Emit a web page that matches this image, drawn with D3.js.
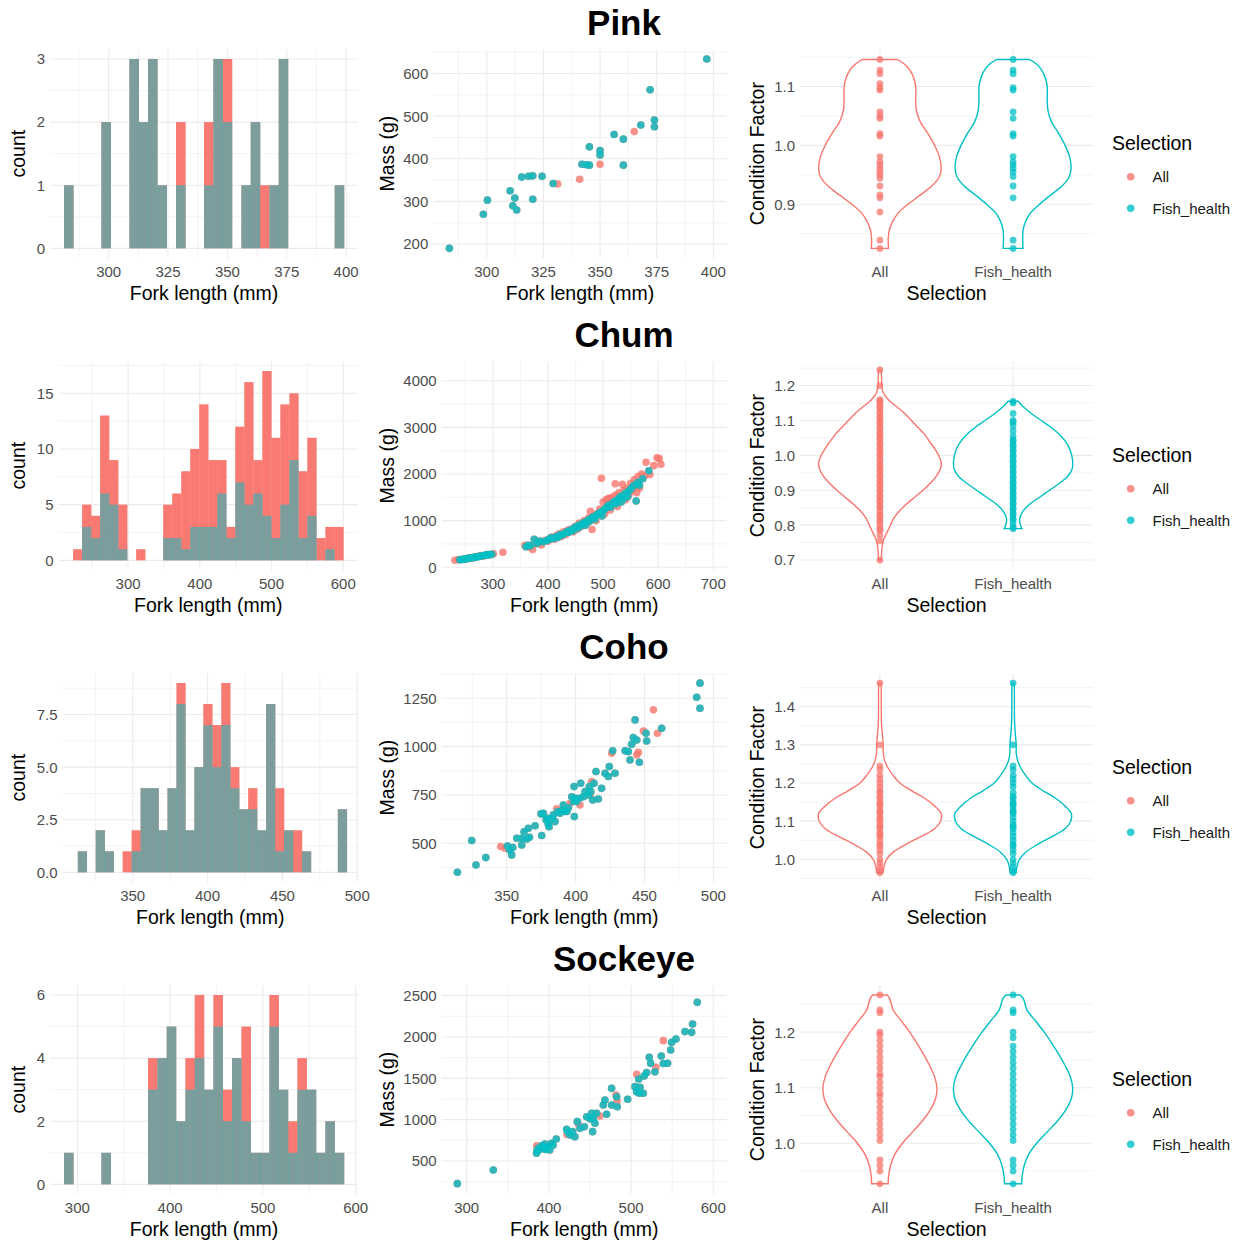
<!DOCTYPE html>
<html><head><meta charset="utf-8">
<script src="https://cdn.jsdelivr.net/npm/d3@7"></script>
<style>body{margin:0;background:#fff}</style>
</head><body>
<script>
// ================= DATA =================
const speciesNames = ["Pink", "Chum", "Coho", "Sockeye"];
const selections = ["All", "Fish_health"];

// Histograms (first bin edge, bin width, counts per bin)
const pinkHistStart = 281.2, pinkHistWidth = 3.93;
const pinkHistAll  = [1,0,0,0,2,0,0,3,2,3,1,0,2,0,0,2,3,3,0,1,2,1,1,3,0,0,0,0,0,1];
const pinkHistFish = [1,0,0,0,2,0,0,3,2,3,1,0,1,0,0,1,3,2,0,1,2,0,1,3,0,0,0,0,0,1];
const chumHistStart = 223.3, chumHistWidth = 12.56;
const chumHistAll  = [1,5,4,13,9,5,0,1,0,0,5,6,8,10,14,9,9,3,12,16,9,17,11,14,15,8,11,2,3,3];
const chumHistFish = [0,3,2,6,5,1,0,0,0,0,2,2,1,3,3,3,6,2,7,5,6,4,2,5,9,2,4,0,1,0];
const cohoHistStart = 313.3, cohoHistWidth = 5.99;
const cohoHistAll  = [1,0,2,1,0,1,2,4,4,2,4,9,2,5,8,7,9,5,3,4,2,8,4,2,2,1,0,0,0,3];
const cohoHistFish = [1,0,2,1,0,0,1,4,4,2,4,8,2,5,7,5,7,4,3,3,2,8,1,2,0,1,0,0,0,3];
const sockHistStart = 285.6, sockHistWidth = 10.06;
const sockHistAll  = [1,0,0,0,1,0,0,0,0,4,4,5,2,4,6,3,6,3,4,5,1,1,6,3,2,4,3,1,2,1];
const sockHistFish = [1,0,0,0,1,0,0,0,0,3,4,5,2,3,4,3,5,2,4,2,1,1,5,3,1,3,3,1,2,1];

// Scatter: fork length (mm) and mass (g); "Other" = in All but not in Fish_health
const pinkFishLen  = [283.5,298.5,300.3,310.3,311.5,312.4,313.2,315.4,318.4,320.3,320.3,324.4,329.3,342,344.1,345.3,345.3,350,350,356.2,360.3,360.3,368,372.1,374,374,397.1];
const pinkFishMass = [190,270,303,325,290,308,280,357,359,360,305,359,342,387,386,385,428,419,409,457,446,385,479,562,491,475,634];
const pinkOtherLen  = [331.3,341,350,365.1];
const pinkOtherMass = [341,352,387,464];

const chumFishLen  = [240,243,246,249,252,255,258,262,266,270,273,276,280,284,287,290,294,298,
  360,364,368,375,380,385,392,398,402,405,410,415,418,422,426,430,434,438,440,444,448,452,455,458,462,465,468,472,475,478,482,485,488,492,495,498,501,504,508,511,514,518,521,524,527,530,533,536,539,542,545,548,552,556,560,563,566,572,583];
const chumFishMass = [160,168,172,178,182,190,196,205,212,222,228,236,245,252,260,265,272,280,
  440,470,460,600,510,560,545,575,600,630,615,660,640,700,690,725,760,750,800,780,850,830,900,870,930,960,900,1010,980,1050,1080,1030,1120,1150,1180,1100,1220,1260,1300,1340,1290,1380,1420,1360,1450,1500,1400,1550,1480,1600,1520,1650,1700,1760,1420,1820,1760,1900,2070];
const chumOtherLen  = [231,238,250,257,264,268,275,282,289,296,301,318,
  358,366,372,376,383,388,395,400,407,412,416,420,424,428,432,436,442,446,450,454,457,461,466,470,474,477,480,484,487,490,494,497,500,503,506,510,513,516,520,522,523,526,529,532,535,538,541,544,547,550,554,557,561,564,566,570,575,578,585,592,598,602,605];
const chumOtherMass = [150,165,175,200,200,225,240,238,275,270,290,320,
  470,430,380,500,520,480,580,560,650,600,680,720,660,760,700,800,820,760,880,820,950,880,1000,940,1060,1200,810,1120,1000,1150,1250,1910,1400,1150,1450,1480,1230,1500,1380,1790,1550,1300,1600,1450,1780,1650,1450,1700,1560,1800,1650,1880,1600,1950,1700,2000,1950,2250,1990,2180,2350,2330,2210];

const cohoFishLen  = [314.2,324.6,327.7,334.8,350.5,352,353.6,354.4,357.3,360.9,360.9,362.6,364.5,365.7,366.5,370.6,375.4,374.9,376.6,378.6,379.5,380.2,380.7,382.7,383.9,385.1,387,388.7,390.6,391.1,391.9,393.6,394.8,397.2,398.4,399.1,398.9,399.6,400.8,402.7,403.7,405.6,406.9,409.3,410,411,412.4,413.4,414.8,416.5,418.9,421.4,423.8,424.5,426.9,428.6,435.9,438.3,439.5,440.7,441.9,443.2,444.4,446.3,451.1,451.6,462.5,487.9,490.3,490.3];
const cohoFishMass = [350,514,388,426,486,466,440,478,526,491,526,560,522,578,531,591,540,652,655,621,629,598,586,629,647,612,664,655,672,698,664,664,684,741,716,638,793,733,716,733,810,741,767,750,793,767,724,810,871,729,784,862,845,897,978,862,978,974,931,1012,1047,1138,1034,919,1069,1029,1095,1255,1328,1198];
const cohoOtherLen  = [345.6,348.8,386.3,396,403.2,410.5,411.7,426.2,444.4,445.6,449.2,456.5,459.4];
const cohoOtherMass = [483,474,678,707,698,753,819,966,957,971,1081,1190,1069];

const sockFishLen  = [288.6,332.4,385,385.5,387,389,391,393,395,396,397,399,401,403,405,409,421.6,423,425.7,428.9,431.7,434.6,437.8,443.1,446,450,452,453.2,454,456,458,466.2,468.2,470.2,476.3,476.3,482.4,483.2,495.8,504.7,506.7,509.2,509.9,510.8,514.8,516,518.9,522.1,523.8,529,536.7,539.2,544.4,548.1,549.3,554.6,565.5,573.6,574.8,580.5];
const sockFishMass = [226,391,593,620,653,640,685,660,706,640,653,670,633,714,690,766,883,850,815,855,794,976,895,915,1036,1010,1077,855,1016,956,1077,1177,1238,1065,1177,1379,1278,1157,1246,1399,1339,1492,1319,1391,1319,1528,1569,1754,1681,1580,1770,1680,1682,1843,1935,1976,2065,2056,2157,2419];
const sockOtherLen  = [385.1,422,436,462,481.6,483,506.7,530.2,539.2];
const sockOtherMass = [685,820,940,1044,1298,1220,1548,1633,1956];

// Violins: condition-factor levels and relative density width (0-100)
const pinkVioCF    = [1.146,1.14,1.13,1.115,1.10,1.08,1.06,1.04,1.02,1.00,0.98,0.96,0.945,0.93,0.915,0.90,0.885,0.87,0.855,0.84,0.825];
const pinkVioAll   = [28.6,37.8,47.6,55.1,58.4,58.4,59.5,65.9,78.4,89.2,97.3,100,96.2,83.8,64.9,45.9,29.7,20.5,15.1,13.5,14.1];
const pinkVioFish  = [27,36.2,45.4,52.4,55.7,55.7,56.8,62.7,74.6,84.9,92.4,94.6,90.8,78.9,60.5,43.2,28.1,20,16.2,15.7,16.2];
const chumVioAllCF = [1.245,1.22,1.2,1.18,1.16,1.14,1.12,1.10,1.08,1.06,1.04,1.02,1.0,0.98,0.96,0.94,0.92,0.90,0.88,0.86,0.84,0.82,0.80,0.78,0.76,0.74,0.72,0.70];
const chumVioAll   = [2.2,2.7,3.2,5.4,13.5,27,40.5,51.4,62.2,73,81.1,89.2,95.7,100,98.4,91.9,82.2,70.3,56.8,43.2,31.4,22.7,17.3,11.9,6.5,3.8,2.7,2.2];
const chumVioFishCF= [1.155,1.14,1.12,1.10,1.08,1.06,1.04,1.02,1.0,0.98,0.96,0.94,0.92,0.90,0.88,0.86,0.84,0.82,0.80,0.79];
const chumVioFish  = [8.1,16.2,29.7,45.9,62.2,75.7,85.4,91.9,95.7,97.3,96.2,89.2,75.7,59.5,43.2,27,16.2,10.8,11.9,14.6];
const cohoVioCF    = [1.462,1.44,1.40,1.36,1.33,1.30,1.28,1.26,1.24,1.22,1.20,1.18,1.16,1.14,1.12,1.10,1.08,1.06,1.04,1.02,1.00,0.98,0.965];
const cohoVioAll   = [1.6,2.2,2.2,2.5,3.8,5.4,5.4,7.6,13,21.6,32.4,51.4,73,89.2,100,98.9,89.2,67.6,43.2,22.7,10.8,6.5,5.4];
const cohoVioFish  = [1.6,2.1,2.1,2.4,3.6,5.1,5.1,7.2,12.4,20.5,30.8,48.8,69.4,84.7,95,94,84.7,64.2,41,21.6,10.3,6.2,5.1];
const sockVioCF    = [1.267,1.26,1.24,1.22,1.20,1.18,1.16,1.14,1.12,1.10,1.08,1.06,1.04,1.02,1.00,0.98,0.96,0.94,0.927];
const sockVioAll   = [11.9,16.2,21.6,35.1,48.6,60.5,71.4,81.1,89.2,93,90.8,82.2,69.2,53,36.8,24.3,17.3,14.1,13.5];
const sockVioFish  = [11.5,16.9,22.6,36.7,50.8,63.3,74.7,84.8,93.3,97.3,95,86,72.4,55.4,38.5,25.4,18.1,14.7,14.1];

// Violin dots: condition factor per fish
const pinkDotsAll  = [1.146,1.128,1.122,1.105,1.098,1.094,1.057,1.050,1.046,1.020,1.016,0.981,0.972,0.967,0.961,0.955,0.950,0.944,0.931,0.916,0.911,0.887,0.839,0.825];
const pinkDotsFish = [1.146,1.128,1.122,1.098,1.094,1.057,1.046,1.020,1.016,0.981,0.972,0.967,0.961,0.955,0.947,0.931,0.911,0.839,0.825];
const chumDotsAll  = [0.70,0.755,0.772,0.785,0.79,0.80,0.81,0.815,0.825,0.83,0.84,0.85,0.855,0.865,0.87,0.88,0.885,0.895,0.90,0.91,0.915,0.925,0.93,0.94,0.945,0.955,0.96,0.97,0.975,0.985,0.99,1.00,1.005,1.015,1.02,1.03,1.035,1.045,1.05,1.06,1.065,1.075,1.08,1.09,1.095,1.105,1.11,1.12,1.125,1.135,1.14,1.15,1.155,1.16,1.2,1.245];
const chumDotsFish = [0.79,0.795,0.805,0.815,0.82,0.83,0.835,0.845,0.85,0.86,0.865,0.875,0.88,0.89,0.895,0.905,0.91,0.92,0.925,0.935,0.94,0.95,0.955,0.965,0.97,0.98,0.985,0.995,1.0,1.01,1.015,1.025,1.03,1.04,1.045,1.055,1.07,1.085,1.095,1.10,1.12,1.15,1.155];
const cohoDotsAll  = [1.462,1.30,1.245,1.235,1.22,1.21,1.20,1.19,1.18,1.175,1.165,1.16,1.15,1.145,1.14,1.13,1.125,1.12,1.11,1.105,1.10,1.09,1.085,1.08,1.07,1.065,1.06,1.05,1.04,1.035,1.025,1.015,1.0,0.99,0.98,0.97,0.965];
const cohoDotsFish = [1.462,1.30,1.245,1.235,1.22,1.21,1.20,1.19,1.175,1.165,1.16,1.15,1.145,1.14,1.13,1.125,1.12,1.11,1.10,1.09,1.085,1.08,1.07,1.06,1.05,1.04,1.035,1.025,1.015,1.0,0.99,0.98,0.97,0.965];
const sockDotsAll  = [1.267,1.24,1.235,1.20,1.195,1.185,1.175,1.165,1.155,1.145,1.135,1.125,1.12,1.11,1.10,1.09,1.085,1.075,1.065,1.055,1.045,1.035,1.025,1.015,1.005,0.97,0.96,0.95,0.927];
const sockDotsFish = [1.267,1.24,1.235,1.20,1.19,1.175,1.165,1.155,1.145,1.135,1.125,1.115,1.105,1.095,1.085,1.075,1.065,1.055,1.045,1.035,1.025,1.015,1.005,0.97,0.96,0.95,0.927];

// ================= CONFIG (built from the arrays) =================
const zip = (a, b) => a.map((v, i) => [v, b[i]]);
const panels = [
  { name: speciesNames[0],
    hist: {start: pinkHistStart, width: pinkHistWidth, all: pinkHistAll, fish: pinkHistFish, left: 50, xDomain: [275.3, 405.0], xTicks: [300,325,350,375,400], yTicks: [0,1,2,3], yFmt: d3.format("d")},
    scat: {fish: zip(pinkFishLen, pinkFishMass), other: zip(pinkOtherLen, pinkOtherMass), left: 433.3, xDomain: [276.4, 405.9], yDomain: [167.8, 656.2], xTicks: [300,325,350,375,400], yTicks: [200,300,400,500,600]},
    vio: {all: zip(pinkVioCF, pinkVioAll), fish: zip(pinkVioCF, pinkVioFish), dotsAll: pinkDotsAll, dotsFish: pinkDotsFish, yDomain: [0.809, 1.163], yTicks: [0.9,1.0,1.1]} },
  { name: speciesNames[1],
    hist: {start: chumHistStart, width: chumHistWidth, all: chumHistAll, fish: chumHistFish, left: 58.5, xDomain: [203, 620.5], xTicks: [300,400,500,600], yTicks: [0,5,10,15], yFmt: d3.format("d")},
    scat: {fish: zip(chumFishLen, chumFishMass), other: zip(chumOtherLen, chumOtherMass), left: 441.7, xDomain: [207, 724.4], yDomain: [-54, 4413], xTicks: [300,400,500,600,700], yTicks: [0,1000,2000,3000,4000]},
    vio: {all: zip(chumVioAllCF, chumVioAll), fish: zip(chumVioFishCF, chumVioFish), dotsAll: chumDotsAll, dotsFish: chumDotsFish, yDomain: [0.672, 1.269], yTicks: [0.7,0.8,0.9,1.0,1.1,1.2]} },
  { name: speciesNames[2],
    hist: {start: cohoHistStart, width: cohoHistWidth, all: cohoHistAll, fish: cohoHistFish, left: 62.5, xDomain: [303.1, 500.5], xTicks: [350,400,450,500], yTicks: [0,2.5,5,7.5], yFmt: d3.format(".1f")},
    scat: {fish: zip(cohoFishLen, cohoFishMass), other: zip(cohoOtherLen, cohoOtherMass), left: 441.7, xDomain: [302.8, 509.7], yDomain: [300.8, 1378], xTicks: [350,400,450,500], yTicks: [500,750,1000,1250]},
    vio: {all: zip(cohoVioCF, cohoVioAll), fish: zip(cohoVioCF, cohoVioFish), dotsAll: cohoDotsAll, dotsFish: cohoDotsFish, yDomain: [0.941, 1.487], yTicks: [1.0,1.1,1.2,1.3,1.4]} },
  { name: speciesNames[3],
    hist: {start: sockHistStart, width: sockHistWidth, all: sockHistAll, fish: sockHistFish, left: 50, xDomain: [270.5, 602.5], xTicks: [300,400,500,600], yTicks: [0,2,4,6], yFmt: d3.format("d")},
    scat: {fish: zip(sockFishLen, sockFishMass), other: zip(sockOtherLen, sockOtherMass), left: 441.7, xDomain: [269.6, 616.3], yDomain: [103, 2623], xTicks: [300,400,500,600], yTicks: [500,1000,1500,2000,2500]},
    vio: {all: zip(sockVioCF, sockVioAll), fish: zip(sockVioCF, sockVioFish), dotsAll: sockDotsAll, dotsFish: sockDotsFish, yDomain: [0.909, 1.284], yTicks: [1.0,1.1,1.2]} }
];

// ================= RENDER =================
const FONT = "'Liberation Sans', Arial, Helvetica, sans-serif";
const RED = "#F8766D", TEAL = "#00BFC4", GRID = "#EBEBEB", TICK = "#4D4D4D";
const ROW_H = 312, PANEL_TOP = 49.5, PANEL_BOTTOM = 257.8;
const HIST_RIGHT = 358, SCAT_RIGHT = 726.7, VIO_LEFT = 800, VIO_RIGHT = 1093;

const svg = d3.select("body").append("svg").attr("width", 1244).attr("height", 1244);
svg.append("rect").attr("width", 1244).attr("height", 1244).attr("fill", "#fff");

function minorTicks(ticks, domain) {
  const step = ticks[1] - ticks[0];
  const lo = Math.min(...domain), hi = Math.max(...domain), out = [];
  for (let i = -1; i < ticks.length; i++) {
    const t = ticks[0] + step * (i + 0.5);
    if (t >= lo && t <= hi) out.push(t);
  }
  return out;
}

function drawGrid(g, x, y, xTicks, yTicks, xMinor) {
  const [xl, xr] = x.range(), [yb, yt] = y.range();
  if (xMinor) g.selectAll(null).data(minorTicks(xTicks, x.domain())).join("line")
    .attr("x1", d => x(d)).attr("x2", d => x(d)).attr("y1", yt).attr("y2", yb)
    .attr("stroke", GRID).attr("stroke-width", 0.6);
  g.selectAll(null).data(minorTicks(yTicks, y.domain())).join("line")
    .attr("y1", d => y(d)).attr("y2", d => y(d)).attr("x1", xl).attr("x2", xr)
    .attr("stroke", GRID).attr("stroke-width", 0.6);
  g.selectAll(null).data(xTicks).join("line")
    .attr("x1", d => x(d)).attr("x2", d => x(d)).attr("y1", yt).attr("y2", yb)
    .attr("stroke", GRID).attr("stroke-width", 1.1);
  g.selectAll(null).data(yTicks).join("line")
    .attr("y1", d => y(d)).attr("y2", d => y(d)).attr("x1", xl).attr("x2", xr)
    .attr("stroke", GRID).attr("stroke-width", 1.1);
}

function drawTickLabels(g, x, y, xTicks, yTicks, xFmt, yFmt) {
  const [xl] = x.range(), [yb] = y.range();
  g.selectAll(null).data(xTicks).join("text")
    .attr("x", d => x(d)).attr("y", yb + 19).attr("text-anchor", "middle")
    .attr("font-family", FONT).attr("font-size", 15).attr("fill", TICK).text(xFmt);
  g.selectAll(null).data(yTicks).join("text")
    .attr("x", xl - 5).attr("y", d => y(d)).attr("dy", "0.36em").attr("text-anchor", "end")
    .attr("font-family", FONT).attr("font-size", 15).attr("fill", TICK).text(yFmt);
}

function axisTitles(g, xText, cx, yb, yText, bx, cy) {
  g.append("text").attr("x", cx).attr("y", yb + 42).attr("text-anchor", "middle")
    .attr("font-family", FONT).attr("font-size", 19.5).attr("fill", "#000").text(xText);
  g.append("text").attr("transform", `translate(${bx},${cy}) rotate(-90)`).attr("text-anchor", "middle")
    .attr("font-family", FONT).attr("font-size", 19.5).attr("fill", "#000").text(yText);
}

panels.forEach((p, r) => {
  const dy = r * ROW_H;
  const top = PANEL_TOP + dy, bottom = PANEL_BOTTOM + dy, cy = (top + bottom) / 2;

  // Row title
  svg.append("text").attr("x", 624).attr("y", 35 + dy).attr("text-anchor", "middle")
    .attr("font-family", FONT).attr("font-weight", "bold").attr("font-size", 35).attr("fill", "#000").text(p.name);

  // ---------- Histogram ----------
  const h = p.hist;
  const hx = d3.scaleLinear().domain(h.xDomain).range([h.left, HIST_RIGHT]);
  const hmax = d3.max(h.all);
  const hy = d3.scaleLinear().domain([-0.05 * hmax, 1.05 * hmax]).range([bottom, top]);
  const gh = svg.append("g");
  drawGrid(gh, hx, hy, h.xTicks, h.yTicks, true);
  const bins = h.all.map((c, i) => ({x0: h.start + i * h.width, x1: h.start + (i + 1) * h.width, all: c, fish: h.fish[i]}));
  gh.selectAll(null).data(bins.filter(b => b.all > 0)).join("rect")
    .attr("x", b => hx(b.x0)).attr("width", b => hx(b.x1) - hx(b.x0) + 0.3)
    .attr("y", b => hy(b.all)).attr("height", b => hy(0) - hy(b.all))
    .attr("fill", RED).attr("fill-opacity", 0.97);
  gh.selectAll(null).data(bins.filter(b => b.fish > 0)).join("rect")
    .attr("x", b => hx(b.x0)).attr("width", b => hx(b.x1) - hx(b.x0) + 0.3)
    .attr("y", b => hy(b.fish)).attr("height", b => hy(0) - hy(b.fish))
    .attr("fill", TEAL).attr("fill-opacity", 0.5);
  drawTickLabels(gh, hx, hy, h.xTicks, h.yTicks, d3.format("d"), h.yFmt);
  axisTitles(gh, "Fork length (mm)", (h.left + HIST_RIGHT) / 2, bottom, "count", 25, cy);

  // ---------- Scatter ----------
  const s = p.scat;
  const sx = d3.scaleLinear().domain(s.xDomain).range([s.left, SCAT_RIGHT]);
  const sy = d3.scaleLinear().domain(s.yDomain).range([bottom, top]);
  const gs = svg.append("g");
  drawGrid(gs, sx, sy, s.xTicks, s.yTicks, true);
  const allPts = s.other.concat(s.fish);
  gs.selectAll(null).data(allPts).join("circle")
    .attr("cx", d => sx(d[0])).attr("cy", d => sy(d[1])).attr("r", 3.8)
    .attr("fill", RED).attr("fill-opacity", 0.8);
  gs.selectAll(null).data(s.fish).join("circle")
    .attr("cx", d => sx(d[0])).attr("cy", d => sy(d[1])).attr("r", 3.8)
    .attr("fill", TEAL).attr("fill-opacity", 0.8);
  drawTickLabels(gs, sx, sy, s.xTicks, s.yTicks, d3.format("d"), d3.format("d"));
  axisTitles(gs, "Fork length (mm)", (s.left + SCAT_RIGHT) / 2, bottom, "Mass (g)", 394, cy);

  // ---------- Violin ----------
  const v = p.vio;
  const vx = d3.scalePoint().domain(selections).range([VIO_LEFT, VIO_RIGHT]).padding(0.6);
  const vy = d3.scaleLinear().domain(v.yDomain).range([bottom, top]);
  const vw = d3.scaleLinear().domain([0, 100]).range([0, vx.step() * 0.46]);
  const gv = svg.append("g");
  gv.selectAll(null).data(minorTicks(v.yTicks, v.yDomain)).join("line")
    .attr("x1", VIO_LEFT).attr("x2", VIO_RIGHT).attr("y1", d => vy(d)).attr("y2", d => vy(d))
    .attr("stroke", GRID).attr("stroke-width", 0.6);
  gv.selectAll(null).data(v.yTicks).join("line")
    .attr("x1", VIO_LEFT).attr("x2", VIO_RIGHT).attr("y1", d => vy(d)).attr("y2", d => vy(d))
    .attr("stroke", GRID).attr("stroke-width", 1.1);
  gv.selectAll(null).data(selections).join("line")
    .attr("x1", d => vx(d)).attr("x2", d => vx(d)).attr("y1", top).attr("y2", bottom)
    .attr("stroke", GRID).attr("stroke-width", 1.1);
  const groups = [
    {sel: selections[0], prof: v.all, dots: v.dotsAll, col: RED},
    {sel: selections[1], prof: v.fish, dots: v.dotsFish, col: TEAL}
  ];
  groups.forEach(gr => {
    const cx = vx(gr.sel);
    const area = d3.area().curve(d3.curveCatmullRom.alpha(0.5))
      .y(d => vy(d[0])).x0(d => cx - vw(d[1])).x1(d => cx + vw(d[1]));
    gv.append("path").attr("d", area(gr.prof)).attr("fill", "#fff")
      .attr("stroke", gr.col).attr("stroke-width", 1.4);
    gv.selectAll(null).data(gr.dots).join("circle")
      .attr("cx", cx).attr("cy", d => vy(d)).attr("r", 3.4)
      .attr("fill", gr.col).attr("fill-opacity", 0.75);
  });
  gv.selectAll(null).data(selections).join("text")
    .attr("x", d => vx(d)).attr("y", bottom + 19).attr("text-anchor", "middle")
    .attr("font-family", FONT).attr("font-size", 15).attr("fill", TICK).text(d => d);
  gv.selectAll(null).data(v.yTicks).join("text")
    .attr("x", VIO_LEFT - 5).attr("y", d => vy(d)).attr("dy", "0.36em").attr("text-anchor", "end")
    .attr("font-family", FONT).attr("font-size", 15).attr("fill", TICK).text(d3.format(".1f"));
  axisTitles(gv, "Selection", (VIO_LEFT + VIO_RIGHT) / 2, bottom, "Condition Factor", 764, cy);

  // ---------- Legend ----------
  const gl = svg.append("g");
  gl.append("text").attr("x", 1112).attr("y", 150.3 + dy)
    .attr("font-family", FONT).attr("font-size", 19.5).attr("fill", "#000").text("Selection");
  const legY = d3.scalePoint().domain(selections).range([176.7 + dy, 208.3 + dy]);
  [RED, TEAL].forEach((col, i) => {
    gl.append("circle").attr("cx", 1130.7).attr("cy", legY(selections[i])).attr("r", 3.8)
      .attr("fill", col).attr("fill-opacity", 0.8);
    gl.append("text").attr("x", 1152.5).attr("y", legY(selections[i])).attr("dy", "0.36em")
      .attr("font-family", FONT).attr("font-size", 15).attr("fill", "#1a1a1a").text(selections[i]);
  });
});
</script>
</body></html>
